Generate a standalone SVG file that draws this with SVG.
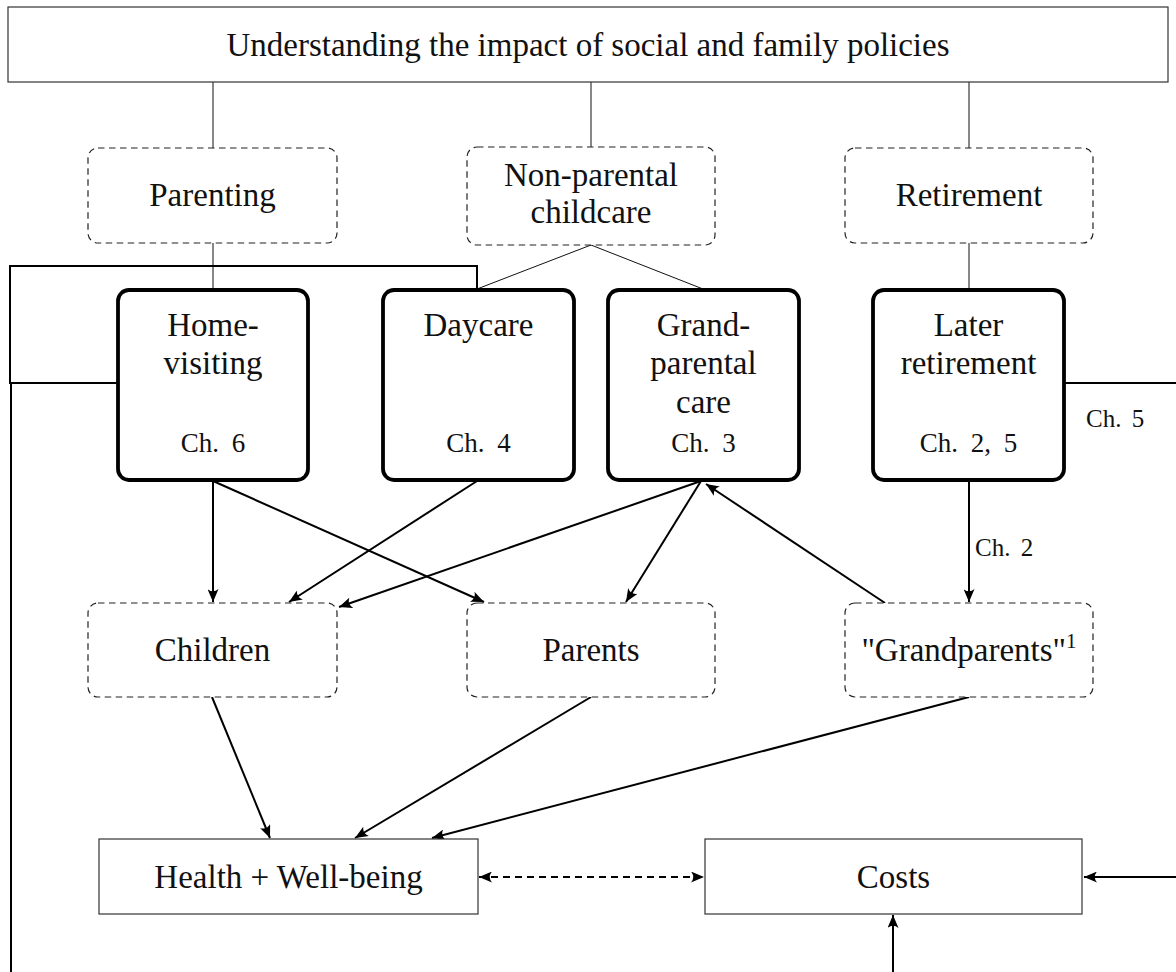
<svg xmlns="http://www.w3.org/2000/svg" width="1176" height="972" viewBox="0 0 1176 972">
<style>
text{font-family:"Liberation Serif","Times New Roman",serif;fill:#111;text-anchor:middle}
.t{font-size:33px}
.ch{font-size:27px;word-spacing:6px}
.sm{font-size:25px;word-spacing:4px;text-anchor:start}
.plain{fill:#fff;stroke:#333;stroke-width:1.2}
.dash{fill:#fff;stroke:#222;stroke-width:1.2;stroke-dasharray:6.5 4.5}
.thick{fill:#fff;stroke:#000;stroke-width:3.8}
.thin{stroke:#111;stroke-width:1;fill:none}
.med{stroke:#000;stroke-width:2;fill:none}
.arr{stroke:#000;stroke-width:2;fill:none;marker-end:url(#ah)}
</style>
<defs>
<marker id="ah" markerUnits="userSpaceOnUse" markerWidth="15" markerHeight="11" refX="13" refY="5.5" orient="auto-start-reverse" viewBox="0 0 15 11">
<path d="M0,0 Q4.5,5.5 0,11 L13,5.5 Z" fill="#000"/>
</marker>
</defs>
<rect width="1176" height="972" fill="#fff"/>

<g id="connectors">
<line class="thin" x1="213" y1="82" x2="213" y2="148"/>
<line class="thin" x1="591" y1="82" x2="591" y2="147"/>
<line class="thin" x1="969" y1="82" x2="969" y2="148"/>
<line class="thin" x1="213" y1="243" x2="213" y2="290"/>
<line class="thin" x1="969" y1="243" x2="969" y2="290"/>
<line class="thin" x1="591" y1="245" x2="477" y2="289"/>
<line class="thin" x1="591" y1="245" x2="703" y2="289"/>
<polyline class="med" points="477,290 477,266 10,266 10,383 118,383"/>
<line class="med" x1="11" y1="383" x2="11" y2="972"/>
<line class="med" x1="1064" y1="383" x2="1176" y2="383"/>
<line class="arr" x1="213" y1="481" x2="213" y2="602"/>
<line class="arr" x1="213" y1="481" x2="484" y2="602"/>
<line class="arr" x1="477" y1="481" x2="289" y2="602"/>
<line class="arr" x1="701" y1="481" x2="339" y2="607"/>
<line class="arr" x1="701" y1="481" x2="626" y2="602"/>
<line class="arr" x1="885" y1="603" x2="706" y2="484"/>
<line class="arr" x1="969" y1="481" x2="969" y2="602"/>
<line class="arr" x1="212" y1="697" x2="270" y2="838"/>
<line class="arr" x1="591" y1="697" x2="355" y2="838"/>
<line class="arr" x1="969" y1="697" x2="432" y2="838"/>
<line x1="479" y1="877" x2="704" y2="877" stroke="#000" stroke-width="2" stroke-dasharray="7 5" marker-start="url(#ah)" marker-end="url(#ah)"/>
<line class="arr" x1="1176" y1="877" x2="1084" y2="877"/>
<line class="arr" x1="893" y1="972" x2="893" y2="915"/>
<text class="sm" x="975" y="556">Ch. 2</text>
<text class="sm" x="1086" y="427">Ch. 5</text>
</g>

<g id="title">
<rect class="plain" x="8" y="7" width="1160" height="75"/>
<text class="t" x="588" y="56">Understanding the impact of social and family policies</text>
</g>

<g id="parenting">
<rect class="dash" x="88" y="148" width="249" height="95" rx="10"/>
<text class="t" x="212.5" y="206">Parenting</text>
</g>
<g id="nonparental">
<rect class="dash" x="467" y="147" width="248" height="98" rx="10"/>
<text class="t" x="591" y="186">Non-parental</text>
<text class="t" x="591" y="223">childcare</text>
</g>
<g id="retirement">
<rect class="dash" x="845" y="148" width="248" height="95" rx="10"/>
<text class="t" x="969" y="206">Retirement</text>
</g>

<g id="homevisiting">
<rect class="thick" x="118" y="290" width="190" height="190" rx="11"/>
<text class="t" x="213" y="336">Home-</text>
<text class="t" x="213" y="374">visiting</text>
<text class="ch" x="213" y="452">Ch. 6</text>
</g>
<g id="daycare">
<rect class="thick" x="383" y="290" width="191" height="190" rx="11"/>
<text class="t" x="478.5" y="336">Daycare</text>
<text class="ch" x="478.5" y="452">Ch. 4</text>
</g>
<g id="grandparental">
<rect class="thick" x="608" y="290" width="191" height="190" rx="11"/>
<text class="t" x="703.5" y="336">Grand-</text>
<text class="t" x="703.5" y="374">parental</text>
<text class="t" x="703.5" y="413">care</text>
<text class="ch" x="703.5" y="452">Ch. 3</text>
</g>
<g id="laterretirement">
<rect class="thick" x="873" y="290" width="191" height="190" rx="11"/>
<text class="t" x="968.5" y="336">Later</text>
<text class="t" x="968.5" y="374">retirement</text>
<text class="ch" x="968.5" y="452">Ch. 2, 5</text>
</g>

<g id="children">
<rect class="dash" x="88" y="603" width="249" height="94" rx="10"/>
<text class="t" x="212.5" y="661">Children</text>
</g>
<g id="parents">
<rect class="dash" x="467" y="603" width="248" height="94" rx="10"/>
<text class="t" x="591" y="661">Parents</text>
</g>
<g id="grandparents">
<rect class="dash" x="845" y="603" width="248" height="94" rx="10"/>
<text class="t" x="969" y="661">"Grandparents"<tspan font-size="21" dy="-13">1</tspan></text>
</g>

<g id="health">
<rect class="plain" x="99" y="839" width="379" height="75"/>
<text class="t" x="288.5" y="888">Health + Well-being</text>
</g>
<g id="costs">
<rect class="plain" x="705" y="839" width="377" height="75"/>
<text class="t" x="893.5" y="888">Costs</text>
</g>
</svg>
